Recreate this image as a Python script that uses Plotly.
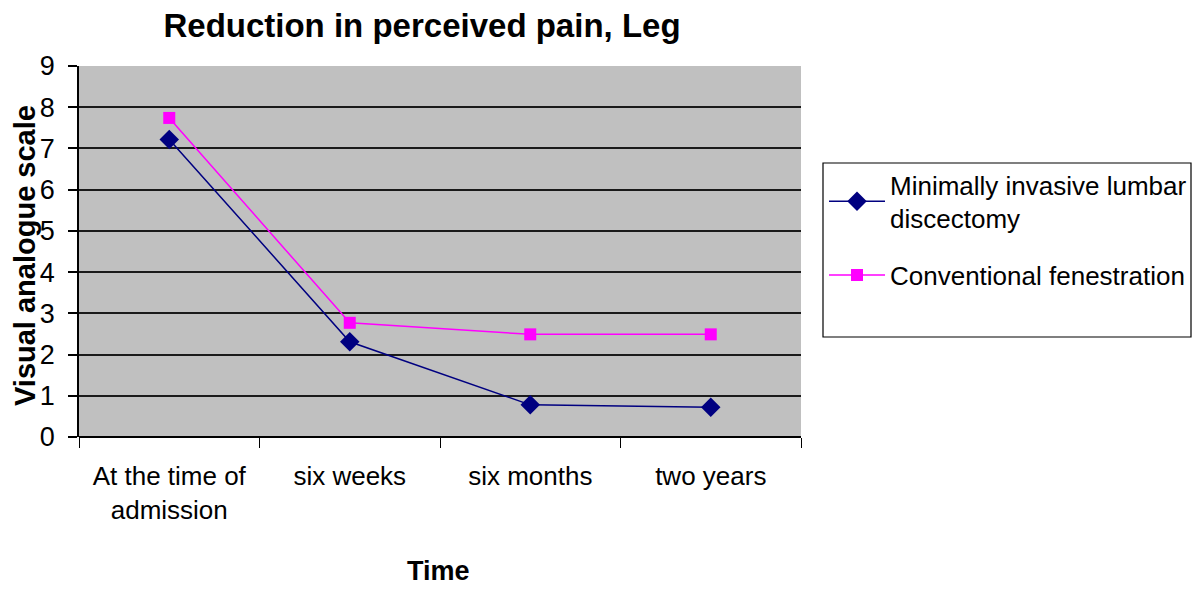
import plotly.graph_objects as go

categories = ["At the time of<br>admission", "six weeks", "six months", "two years"]
minimally_invasive = [7.22, 2.31, 0.78, 0.72]
conventional = [7.74, 2.77, 2.49, 2.49]
series_names = ["Minimally invasive lumbar<br>discectomy", "Conventional fenestration"]
y_ticks = [0, 1, 2, 3, 4, 5, 6, 7, 8, 9]

xpos = [i + 0.5 for i in range(len(categories))]
FONT = "Liberation Sans, Arial, sans-serif"

# the page body adds an 8px offset; lay the figure out in reference pixels minus 8
OFF = 8
W, H = 1200 - 2 * OFF, 594 - 2 * OFF
PL, PR, PT, PB = 79 - OFF, 801 - OFF, 66 - OFF, 437 - OFF
PW, PH = PR - PL, PB - PT


def px_x(px):
    return (px - OFF - PL) / PW


def px_y(py):
    return (PB - (py - OFF)) / PH


fig = go.Figure()
fig.add_trace(go.Scatter(
    x=xpos, y=minimally_invasive, name=series_names[0], mode="lines+markers",
    legendgroup="a",
    line=dict(color="#000080", width=1.5),
    marker=dict(symbol="diamond", size=15, color="#000080"),
))
fig.add_trace(go.Scatter(
    x=xpos, y=conventional, name=series_names[1], mode="lines+markers",
    legendgroup="b",
    line=dict(color="#FF00FF", width=1.5),
    marker=dict(symbol="square", size=12, color="#FF00FF"),
))

fig.update_layout(
    width=W, height=H,
    paper_bgcolor="white", plot_bgcolor="#C0C0C0",
    margin=dict(l=PL, r=W - PR, t=PT, b=H - PB, autoexpand=False),
    font=dict(family=FONT, color="black", size=26),
    title=dict(text="<b>Reduction in perceived pain, Leg</b>", x=(422 - OFF) / W, xanchor="center",
               y=1 - 17 / H, yanchor="middle", font=dict(size=33, family=FONT)),
    legend=dict(x=px_x(824), xanchor="left", y=px_y(161), yanchor="top",
                borderwidth=0, bgcolor="rgba(0,0,0,0)", traceorder="grouped",
                tracegroupgap=20,
                font=dict(size=26, family=FONT), itemwidth=56),
    showlegend=True,
    shapes=[dict(type="rect", xref="paper", yref="paper",
                 x0=px_x(823), x1=px_x(1191), y0=px_y(337), y1=px_y(163),
                 line=dict(color="black", width=1.2), fillcolor="rgba(0,0,0,0)")],
    annotations=[
        dict(text="<b>Visual analogue scale</b>", xref="paper", yref="paper",
             x=px_x(25), y=px_y(256), xanchor="center", yanchor="middle", textangle=-90,
             showarrow=False, font=dict(size=29, family=FONT)),
        dict(text="<b>Time</b>", xref="paper", yref="paper",
             x=px_x(438), y=px_y(571), xanchor="center", yanchor="middle",
             showarrow=False, font=dict(size=27, family=FONT)),
    ],
)
fig.update_xaxes(
    range=[0, 4], tickmode="array", tickvals=xpos, ticktext=categories,
    ticks="", showgrid=False, zeroline=False, showline=False, automargin=False,
    tickfont=dict(size=26, family=FONT), ticklabelstandoff=21,
    minor=dict(tickmode="linear", tick0=0, dtick=1, ticks="outside",
               ticklen=10, tickcolor="black", tickwidth=1.2, showgrid=False),
)
fig.update_yaxes(
    range=[0, 9], tickmode="array", tickvals=y_ticks,
    ticks="outside", ticklen=9, tickcolor="black", tickwidth=1.5,
    showgrid=True, gridcolor="#1a1a1a", gridwidth=1.6,
    zeroline=True, zerolinecolor="black", zerolinewidth=1.5,
    showline=True, linecolor="black", linewidth=1.5, automargin=False,
    tickfont=dict(size=27, family=FONT), ticklabelstandoff=8,
)

fig.write_html("out.html")
